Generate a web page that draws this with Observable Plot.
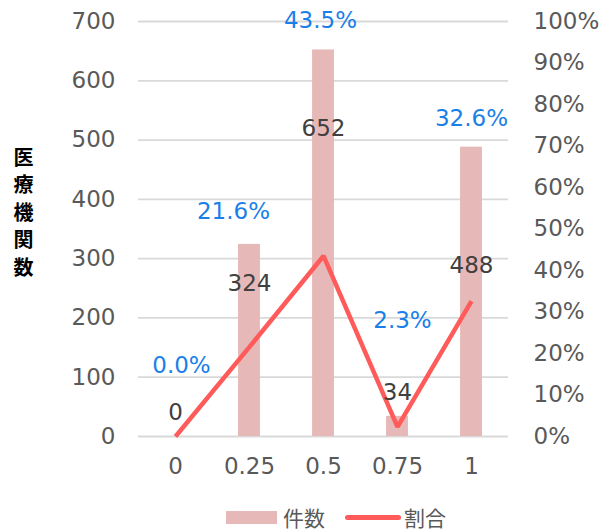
<!DOCTYPE html>
<html><head><meta charset="utf-8">
<script src="https://cdn.jsdelivr.net/npm/d3@7"></script>
<script src="https://cdn.jsdelivr.net/npm/@observablehq/plot@0.6"></script>
<style>
body{margin:0;background:#fff;font-family:"DejaVu Sans","Noto Sans CJK JP",sans-serif}
#wrap{position:relative;width:603px;height:531px}
#legend{position:absolute;left:226px;top:505px;display:flex;align-items:center;font-size:21px;line-height:25px;color:#595959;font-family:"Noto Sans CJK JP",sans-serif}
.sw{width:51px;height:13px;background:#e6b9b8;margin-right:6px}
.ln{width:56px;height:5px;border-radius:3px;background:#ff5b5b;margin-right:3px;margin-left:20px}
</style>
</head><body>
<div id="wrap"><div id="chart"></div><div id="legend"></div></div>
<script>
const categories = [0, 0.25, 0.5, 0.75, 1];
const counts = [0, 324, 652, 34, 488];
const shares = [0.000, 0.216, 0.435, 0.023, 0.326];
const countTicks = [0, 100, 200, 300, 400, 500, 600, 700];
const shareTicks = [0, 0.1, 0.2, 0.3, 0.4, 0.5, 0.6, 0.7, 0.8, 0.9, 1.0];
const seriesNames = ["件数", "割合"];
const yTitle = "医療機関数";

// label offsets (pixels, relative to each data point)
const countLabelDy = [-24, 39, 79, -24, 118];
const shareLabelDy = [-71, -135, -235, -106, -183];
const shareLabelDx = [6, -16, -3, 5, 0];

const countMax = 700;
const barHalf = 0.037;
const data = categories.map((c, i) => ({c, n: counts[i], s: shares[i], sy: shares[i] * countMax}));

const fontFamily = '"DejaVu Sans","Noto Sans CJK JP",sans-serif';
const fs = 23;

const marks = [
  Plot.ruleY(countTicks, {stroke: "#d9d9d9", strokeWidth: 1.8}),
  Plot.rectY(data, {x1: d => d.c - barHalf, x2: d => d.c + barHalf, y1: 0, y2: "n", fill: "#e6b9b8"}),
  Plot.line(data, {x: "c", y: "sy", stroke: "#ff5b5b", strokeWidth: 4.5, strokeLinejoin: "miter", strokeLinecap: "butt"}),
  Plot.axisY(countTicks, {anchor: "left", tickSize: 0, tickPadding: 23, fill: "#595959", fontSize: fs, label: null}),
  Plot.axisY(shareTicks.map(s => s * countMax), {anchor: "right", tickSize: 0, tickPadding: 25, fill: "#595959", fontSize: fs, label: null,
    tickFormat: d => Math.round(d / countMax * 100) + "%"}),
  Plot.axisX(categories, {tickSize: 0, tickPadding: 21, fill: "#595959", fontSize: fs, label: null, tickFormat: d => String(d)}),
  Plot.text([yTitle], {frameAnchor: "left", dx: -115, dy: -18, textAnchor: "middle", text: d => d.split("").join("\n"), lineHeight: 1.375,
    fontSize: 20, fontWeight: "bold", fill: "#000", fontFamily: '"Noto Sans CJK JP",sans-serif'})
];
data.forEach((d, i) => {
  marks.push(Plot.text([d], {x: "c", y: "n", text: d => String(d.n), dy: countLabelDy[i], fill: "#404040", fontSize: fs}));
  marks.push(Plot.text([d], {x: "c", y: "sy", text: d => (d.s * 100).toFixed(1) + "%", dy: shareLabelDy[i], dx: shareLabelDx[i], fill: "#1a7fe8", fontSize: fs}));
});

const chart = Plot.plot({
  width: 603,
  height: 500,
  marginLeft: 138,
  marginRight: 95,
  marginTop: 21,
  marginBottom: 64,
  style: {fontFamily, fontSize: "23px", background: "#fff", overflow: "visible"},
  x: {type: "linear", domain: [-0.125, 1.125], axis: null},
  y: {domain: [0, countMax], axis: null},
  marks
});
document.getElementById("chart").appendChild(chart);

const lg = document.getElementById("legend");
lg.innerHTML = `<div class="sw"></div><span>${seriesNames[0]}</span><div class="ln"></div><span>${seriesNames[1]}</span>`;
</script>
</body></html>
